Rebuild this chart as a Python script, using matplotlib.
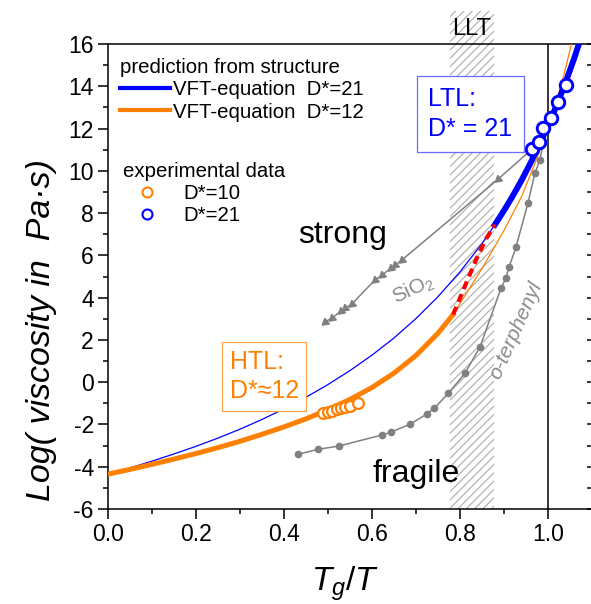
import matplotlib
matplotlib.use("Agg")
import matplotlib.pyplot as plt
import numpy as np
from matplotlib.lines import Line2D
from matplotlib.patches import Rectangle
from matplotlib.ticker import FormatStrFormatter, MultipleLocator

plt.rcParams["font.family"] = ["Liberation Sans", "DejaVu Sans"]
plt.rcParams["mathtext.fontset"] = "custom"
plt.rcParams["mathtext.it"] = "Liberation Sans:italic"
plt.rcParams["mathtext.rm"] = "Liberation Sans"
plt.rcParams["axes.unicode_minus"] = False
plt.rcParams["hatch.linewidth"] = 0.8

# VFT prediction, D*=21
vft21_x = [0.0, 0.05, 0.1, 0.15, 0.2, 0.25, 0.3, 0.35, 0.4, 0.45, 0.5, 0.55, 0.6, 0.65,
           0.7, 0.75, 0.8, 0.85, 0.88, 0.9, 0.92, 0.94, 0.96, 0.98, 1.0, 1.02, 1.04,
           1.06, 1.08]
vft21_y = [-4.35, -4.06, -3.74, -3.40, -3.04, -2.65, -2.23, -1.77, -1.27, -0.72, -0.12,
           0.54, 1.27, 2.08, 3.00, 4.03, 5.20, 6.54, 7.45, 8.10, 8.79, 9.53, 10.33,
           11.18, 12.10, 13.08, 14.15, 15.31, 16.58]

# VFT prediction, D*=12
vft12_x = [0.0, 0.05, 0.1, 0.15, 0.2, 0.25, 0.3, 0.35, 0.4, 0.45, 0.5, 0.55, 0.6, 0.65,
           0.7, 0.75, 0.785, 0.8, 0.85, 0.9, 0.94, 0.97, 1.0, 1.02, 1.035, 1.05, 1.06]
vft12_y = [-4.35, -4.13, -3.89, -3.64, -3.38, -3.10, -2.80, -2.47, -2.12, -1.74, -1.31,
           -0.82, -0.26, 0.42, 1.25, 2.30, 3.20, 3.70, 5.35, 7.15, 8.75, 10.3, 12.0,
           13.3, 14.4, 15.65, 16.6]

# transition across the LLT (red dashed)
trans_x = [0.785, 0.80, 0.82, 0.84, 0.86, 0.88]
trans_y = [3.20, 3.95, 4.95, 5.92, 6.78, 7.45]

# experimental data
htl_x = [0.490, 0.500, 0.510, 0.520, 0.530, 0.540, 0.550, 0.569]
htl_y = [-1.48, -1.41, -1.35, -1.29, -1.23, -1.17, -1.11, -0.97]
ltl_x = [0.965, 0.980, 0.990, 1.0075, 1.024, 1.041]
ltl_y = [11.02, 11.37, 12.03, 12.52, 13.26, 14.05]

sio2_x = [0.494, 0.509, 0.530, 0.539, 0.555, 0.607, 0.623, 0.643, 0.653, 0.668, 0.887, 0.963]
sio2_y = [2.86, 3.02, 3.36, 3.49, 3.70, 4.83, 5.06, 5.38, 5.54, 5.77, 9.60, 11.0]

oter_x = [0.433, 0.477, 0.526, 0.623, 0.643, 0.687, 0.725, 0.742, 0.774, 0.812, 0.846,
          0.894, 0.905, 0.912, 0.928, 0.955, 0.971, 0.982, 0.990]
oter_y = [-3.41, -3.18, -3.02, -2.50, -2.37, -1.99, -1.51, -1.24, -0.53, 0.42, 1.66,
          4.45, 4.92, 5.44, 6.39, 8.47, 9.89, 10.5, 11.3]

llt_lo, llt_hi = 0.778, 0.877   # liquid-liquid transition band

BLUE = "#0000ff"
ORANGE = "#ff8000"
GRAY = "#808080"

fig = plt.figure(figsize=(5.91, 6.04), dpi=100)
ax = fig.add_axes([107.7 / 591, 95 / 604, 484 / 591, 465 / 604])
ax.set_xlim(0, 1.1)
ax.set_ylim(-6, 16)

# LLT band (extends above the frame)
ax.add_patch(Rectangle((llt_lo, -6), llt_hi - llt_lo, 23.55, facecolor="white",
                       edgecolor="#ababab", hatch="////", lw=0, clip_on=False, zorder=0.5))
ax.text((llt_lo + llt_hi) / 2, 16.72, "LLT", ha="center", va="center", fontsize=17,
        clip_on=False)

ax.axvline(1.0, color="black", lw=1.1, zorder=1)

# gray reference liquids
ax.plot(sio2_x, sio2_y, color=GRAY, lw=1.1, marker=(3, 0, 130), ms=6, zorder=2)
ax.plot(oter_x, oter_y, color=GRAY, lw=1.1, marker="o", ms=4.5, zorder=2)

# VFT curves
x21, y21 = np.array(vft21_x), np.array(vft21_y)
x12, y12 = np.array(vft12_x), np.array(vft12_y)
ax.plot(x21, y21, color=BLUE, lw=0.9, zorder=3)
ax.plot(x12, y12, color=ORANGE, lw=0.9, zorder=3)
m = x21 >= trans_x[-1]
ax.plot(x21[m], y21[m], color=BLUE, lw=4.3, zorder=3)
m = x12 <= trans_x[0]
ax.plot(x12[m], y12[m], color=ORANGE, lw=3.6, zorder=3)
ax.plot(trans_x, trans_y, color="#ff0000", lw=3, dashes=(2, 1.3), zorder=3)

# data circles
ax.plot(htl_x, htl_y, ls="none", marker="o", ms=7.8, mfc="white", mec=ORANGE, mew=1.6, zorder=4)
ax.plot(ltl_x, ltl_y, ls="none", marker="o", ms=9.0, mfc="white", mec=BLUE, mew=2.1, zorder=4)

# annotations
ax.text(0.533, 6.58, "strong", ha="center", va="baseline", fontsize=23)
ax.text(0.70, -4.71, "fragile", ha="center", va="baseline", fontsize=23)
ax.text(0.695, 4.40, "SiO$_2$", ha="center", va="center", fontsize=15, color="#8c8c8c",
        rotation=25)
ax.text(0.928, 2.46, "o-terphenyl", ha="center", va="center", fontsize=15, color="#8c8c8c",
        rotation=66, style="italic")
ax.text(0.356, 0.27, "HTL:\nD*≈12", ha="center", va="center", fontsize=18, color=ORANGE,
        multialignment="left", linespacing=1.3, zorder=6,
        bbox=dict(boxstyle="square,pad=0.3", fc="white", ec="#ffa54f", lw=0.9))
ax.text(0.824, 12.68, "LTL:\nD* = 21", ha="center", va="center", fontsize=18, color=BLUE,
        multialignment="left", linespacing=1.3, zorder=6,
        bbox=dict(boxstyle="square,pad=0.45", fc="white", ec="#6a6aff", lw=0.9))

# legends
h_pred = [Line2D([], [], color=BLUE, lw=3), Line2D([], [], color=ORANGE, lw=3)]
leg1 = ax.legend(h_pred, ["VFT-equation  D*=21", "VFT-equation  D*=12"],
                 title="prediction from structure", loc="upper left",
                 bbox_to_anchor=(0.0254, 0.969), frameon=False, fontsize=14.7,
                 title_fontsize=14.7, alignment="left", handlelength=2.45,
                 handletextpad=0.15, labelspacing=0.15, borderpad=0, borderaxespad=0)
ax.add_artist(leg1)
h_exp = [Line2D([], [], ls="none", marker="o", ms=7.2, mfc="white", mec=ORANGE, mew=1.5),
         Line2D([], [], ls="none", marker="o", ms=7.2, mfc="white", mec=BLUE, mew=1.5)]
ax.legend(h_exp, ["D*=10", "D*=21"], title="experimental data", loc="upper left",
          bbox_to_anchor=(0.0316, 0.746), frameon=False, fontsize=14.7,
          title_fontsize=14.7, alignment="left", handlelength=2.4,
          handletextpad=0.55, labelspacing=0.15, borderpad=0, borderaxespad=0)

# axes styling
ax.xaxis.set_major_locator(MultipleLocator(0.2))
ax.xaxis.set_minor_locator(MultipleLocator(0.1))
ax.yaxis.set_major_locator(MultipleLocator(2))
ax.yaxis.set_minor_locator(MultipleLocator(1))
ax.xaxis.set_major_formatter(FormatStrFormatter("%.1f"))
ax.yaxis.set_major_formatter(FormatStrFormatter("%d"))
ax.tick_params(which="major", direction="out", length=7, width=1.1, labelsize=16.5, pad=3)
ax.tick_params(which="minor", direction="out", length=3.5, width=1.1)
ax.spines["right"].set_visible(False)
for s in ("left", "bottom", "top"):
    ax.spines[s].set_linewidth(1.1)

sec = ax.secondary_yaxis("right")
sec.yaxis.set_major_locator(MultipleLocator(1))
sec.tick_params(direction="in", length=3.6, width=1.1, labelright=False)
sec.spines["right"].set_visible(False)

ax.set_ylabel("Log( viscosity in  Pa·s)", fontsize=24.5, style="italic")
ax.yaxis.set_label_coords(-0.105, 0.385)
ax.set_xlabel(r"$T_g/T$", fontsize=24)
ax.xaxis.set_label_coords(0.49, -0.12)

fig.savefig("out.png", dpi=100)
